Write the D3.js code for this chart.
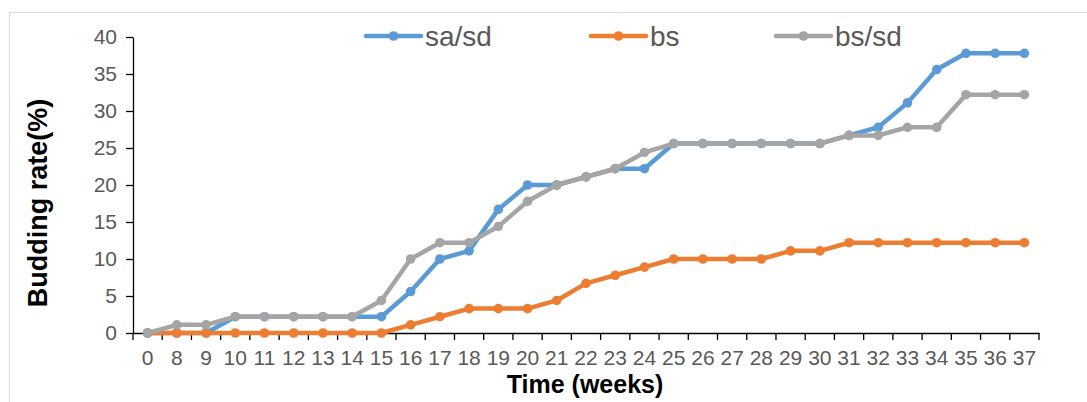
<!DOCTYPE html>
<html>
<head>
<meta charset="utf-8">
<script src="https://cdn.jsdelivr.net/npm/d3@7"></script>
<style>
  body { margin: 0; background: #fff; }
  svg { display: block; font-family: "Liberation Sans", Arial, sans-serif; }
</style>
</head>
<body>
<svg id="chart" width="1087" height="402"></svg>
<script>
// semaines (axe des x)
const weeks = ["0", "8", "9", "10", "11", "12", "13", "14", "15", "16", "17", "18", "19", "20", "21", "22",
  "23", "24", "25", "26", "27", "28", "29", "30", "31", "32", "33", "34", "35", "36", "37"];
const seriesNames = ["sa/sd", "bs", "bs/sd"];
const saSd = [0, 0, 0, 2.2, 2.2, 2.2, 2.2, 2.2, 2.2, 5.6, 10, 11.1, 16.7, 20, 20, 21.1,
  22.2, 22.2, 25.6, 25.6, 25.6, 25.6, 25.6, 25.6, 26.7, 27.8, 31.1, 35.6, 37.8, 37.8, 37.8];
const bs = [0, 0, 0, 0, 0, 0, 0, 0, 0, 1.1, 2.2, 3.3, 3.3, 3.3, 4.4, 6.7,
  7.8, 8.9, 10, 10, 10, 10, 11.1, 11.1, 12.2, 12.2, 12.2, 12.2, 12.2, 12.2, 12.2];
const bsSd = [0, 1.1, 1.1, 2.2, 2.2, 2.2, 2.2, 2.2, 4.4, 10, 12.2, 12.2, 14.4, 17.8, 20, 21.1,
  22.2, 24.4, 25.6, 25.6, 25.6, 25.6, 25.6, 25.6, 26.7, 26.7, 27.8, 27.8, 32.2, 32.2, 32.2];
const yTicks = [0, 5, 10, 15, 20, 25, 30, 35, 40];

const colors = ["#5B9BD5", "#ED7D31", "#A5A5A5"];
const series = [saSd, bs, bsSd];

const svg = d3.select("#chart");

// cadre du graphique
svg.append("rect")
  .attr("x", 9.5).attr("y", 12.5)
  .attr("width", 1100).attr("height", 400)
  .attr("fill", "#fff").attr("stroke", "#d9d9d9");

const x = d3.scaleBand().domain(weeks).range([133, 1039]).padding(0);
const y = d3.scaleLinear().domain([0, 40]).range([333, 37]);

// axe y
const yAxis = svg.append("g")
  .attr("transform", "translate(133,0)")
  .call(d3.axisLeft(y).tickValues(yTicks).tickSize(7).tickSizeOuter(0).tickPadding(9));
yAxis.select(".domain").attr("stroke", "#000").attr("stroke-width", 1.3);
yAxis.selectAll(".tick line").attr("stroke", "#000").attr("stroke-width", 1.3);
yAxis.selectAll(".tick text")
  .attr("fill", "#595959").style("font-size", "21px");

// axe x (ticks entre les catégories)
const xAxis = svg.append("g")
  .attr("transform", "translate(0,333)")
  .call(d3.axisBottom(x).tickSize(0).tickPadding(17));
xAxis.select(".domain").attr("stroke", "#000").attr("stroke-width", 1.3);
xAxis.selectAll(".tick text")
  .attr("fill", "#595959").style("font-size", "21px");
xAxis.selectAll(".bound")
  .data(weeks.map(w => x(w)).concat([x.range()[1]]))
  .enter().append("line")
  .attr("class", "bound")
  .attr("x1", d => d).attr("x2", d => d)
  .attr("y1", 0).attr("y2", 7)
  .attr("stroke", "#000").attr("stroke-width", 1.3);

// titres des axes
svg.append("text")
  .attr("transform", "translate(46.5,203) rotate(-90)")
  .attr("text-anchor", "middle")
  .style("font-size", "27px").style("font-weight", "bold")
  .attr("fill", "#000")
  .text("Budding rate(%)");

svg.append("text")
  .attr("x", 585).attr("y", 393)
  .attr("text-anchor", "middle")
  .style("font-size", "25px").style("font-weight", "bold")
  .attr("fill", "#000")
  .text("Time (weeks)");

// courbes
const line = d3.line()
  .x((d, i) => x(weeks[i]) + x.bandwidth() / 2)
  .y(d => y(d));

series.forEach((vals, k) => {
  const g = svg.append("g");
  g.append("path")
    .datum(vals)
    .attr("d", line)
    .attr("fill", "none")
    .attr("stroke", colors[k])
    .attr("stroke-width", 4.5)
    .attr("stroke-linejoin", "round")
    .attr("stroke-linecap", "round");
  g.selectAll("circle")
    .data(vals)
    .enter().append("circle")
    .attr("cx", (d, i) => x(weeks[i]) + x.bandwidth() / 2)
    .attr("cy", d => y(d))
    .attr("r", 4.8)
    .attr("fill", colors[k]);
});

// légende
const legendX = [366, 591, 776];
const legend = svg.selectAll(".legend")
  .data(seriesNames)
  .enter().append("g")
  .attr("class", "legend")
  .attr("transform", (d, i) => `translate(${legendX[i]},36)`);
legend.append("line")
  .attr("x1", 0).attr("x2", 55)
  .attr("stroke", (d, i) => colors[i])
  .attr("stroke-width", 4.5)
  .attr("stroke-linecap", "round");
legend.append("circle")
  .attr("cx", 27.5).attr("r", 4.8)
  .attr("fill", (d, i) => colors[i]);
legend.append("text")
  .attr("x", 59).attr("y", 10)
  .style("font-size", "28px")
  .attr("fill", "#595959")
  .text(d => d);
</script>
</body>
</html>
